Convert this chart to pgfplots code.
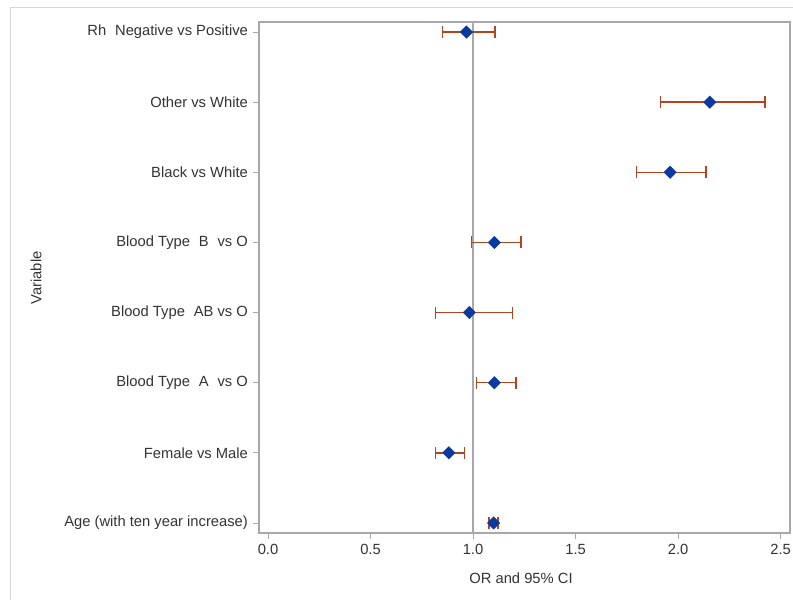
\documentclass[border=0pt]{standalone}
\usepackage{fontspec}
\setmainfont{Liberation Sans}
\usepackage{pgfplots}
\pgfplotsset{compat=1.18}
\usepackage{pgfplotstable}
\definecolor{txtgray}{HTML}{333333}
\definecolor{axgray}{HTML}{A5A9AE}
\definecolor{markblue}{HTML}{0B3A9E}
\definecolor{barred}{HTML}{B5431E}
\definecolor{framegray}{HTML}{D4D7DB}

% pos = row from bottom, OR, lower and upper 95% CI
\pgfplotstableread{
pos  or     lo     hi
1    1.100  1.078  1.122
2    0.882  0.818  0.958
3    1.104  1.018  1.210
4    0.982  0.816  1.193
5    1.104  0.993  1.234
6    1.961  1.798  2.137
7    2.155  1.914  2.424
8    0.968  0.852  1.107
}\ortable

\newcommand\gap{\hspace{0.6em}}
\begin{document}
\fontsize{14.8}{17}\selectfont
\begin{tikzpicture}[x=1bp,y=1bp]
\useasboundingbox (0,0) rectangle (793,600);
\draw[framegray, line width=1bp] (10,-5) -- (10,592) -- (800,592);
\begin{axis}[
  at={(259bp,67bp)}, anchor=south west,
  scale only axis,
  width=531bp, height=511bp,
  xmin=-0.044, xmax=2.546,
  ymin=0.857, ymax=8.143,
  xtick={0,0.5,...,2.5},
  ytick={1,...,8},
  yticklabels={Age (with ten year increase),Female vs Male,Blood Type\gap A\gap vs O,Blood Type\gap AB vs O,Blood Type\gap B\gap vs O,Black vs White,Other vs White,Rh\gap Negative vs Positive},
  xticklabel style={/pgf/number format/.cd, fixed, fixed zerofill, precision=1, assume math mode=true},
  tick align=outside,
  major tick length=6bp,
  xtick pos=bottom, ytick pos=left,
  tick style={axgray, line width=0.8bp},
  axis line style={axgray, line width=1.2bp},
  ticklabel style={txtgray, font=\fontsize{14.8}{17}\selectfont},
  clip=false,
]
\draw[axgray, line width=1.5bp] (axis cs:1,0.857) -- (axis cs:1,8.143);
\addplot[
  only marks,
  mark=square*,
  mark size=4.4bp,
  mark options={rotate=45, fill=markblue, draw=markblue},
  error bars/.cd,
    x dir=both, x explicit,
    error bar style={barred, line width=1.5bp},
    error mark options={barred, line width=1.5bp, mark size=6bp, rotate=90},
] table[x=or, y=pos, x error plus expr=\thisrow{hi}-\thisrow{or}, x error minus expr=\thisrow{or}-\thisrow{lo}] {\ortable};
\end{axis}
\node[txtgray, font=\fontsize{14.8}{17}\selectfont] at (521,22) {OR and 95\% CI};
\node[txtgray, font=\fontsize{14.8}{17}\selectfont, rotate=90] at (36,322) {Variable};
\end{tikzpicture}
\end{document}
